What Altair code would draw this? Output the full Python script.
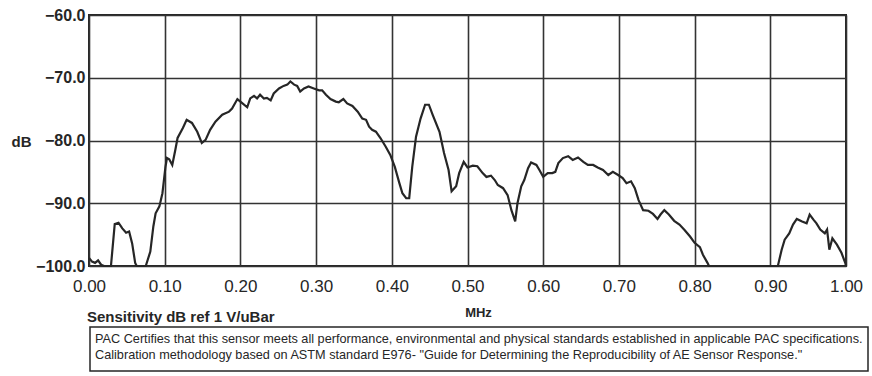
import altair as alt
import pandas as pd

# Frequency response of the sensor (MHz vs dB)
freq_mhz = [
    0.000, 0.004, 0.008, 0.012, 0.016, 0.020, 0.029, 0.034, 0.039, 0.044,
    0.049, 0.053, 0.057, 0.061, 0.063, 0.075, 0.081, 0.085, 0.088, 0.093,
    0.097, 0.101, 0.103, 0.106, 0.110, 0.114, 0.117, 0.124, 0.129, 0.136,
    0.143, 0.149, 0.154, 0.160, 0.167, 0.176, 0.185, 0.189, 0.196, 0.202,
    0.209, 0.213, 0.218, 0.222, 0.226, 0.231, 0.235, 0.240, 0.244, 0.251,
    0.257, 0.262, 0.266, 0.271, 0.275, 0.279, 0.284, 0.290, 0.297, 0.304,
    0.308, 0.313, 0.319, 0.326, 0.330, 0.336, 0.341, 0.348, 0.355, 0.361,
    0.366, 0.370, 0.374, 0.379, 0.385, 0.392, 0.398, 0.404, 0.410, 0.414,
    0.419, 0.423, 0.427, 0.432, 0.438, 0.444, 0.449, 0.454, 0.463, 0.469,
    0.475, 0.479, 0.485, 0.489, 0.495, 0.500, 0.507, 0.513, 0.520, 0.525,
    0.531, 0.536, 0.540, 0.547, 0.553, 0.558, 0.563, 0.566, 0.571, 0.575,
    0.580, 0.584, 0.591, 0.595, 0.600, 0.606, 0.612, 0.616, 0.620, 0.626,
    0.633, 0.639, 0.646, 0.653, 0.659, 0.666, 0.672, 0.679, 0.686, 0.692,
    0.699, 0.705, 0.710, 0.716, 0.721, 0.726, 0.732, 0.739, 0.745, 0.751,
    0.755, 0.760, 0.766, 0.773, 0.780, 0.787, 0.794, 0.800, 0.807, 0.811,
    0.817, 0.819, 0.910, 0.915, 0.919, 0.925, 0.930, 0.935, 0.942, 0.948,
    0.952, 0.957, 0.961, 0.966, 0.972, 0.975, 0.978, 0.982, 0.988, 0.994,
    0.999, 1.000,
]
sensitivity_db = [
    -98.7, -99.3, -99.5, -99.1, -99.8, -100.0, -100.0, -93.3, -93.1, -94.0,
    -94.7, -94.5, -96.4, -99.5, -100.0, -100.0, -97.7, -93.7, -91.6, -90.5,
    -88.4, -84.2, -82.8, -83.0, -83.9, -81.5, -79.6, -78.0, -76.7, -77.2,
    -78.6, -80.4, -79.9, -78.3, -77.0, -75.9, -75.4, -74.9, -73.4, -74.0,
    -74.7, -73.3, -72.9, -73.3, -72.7, -73.3, -73.2, -73.6, -72.5, -71.7,
    -71.3, -71.1, -70.6, -71.1, -71.3, -72.2, -71.7, -71.4, -71.7, -72.0,
    -72.0, -72.7, -73.4, -73.8, -73.9, -73.4, -74.1, -74.5, -75.4, -76.5,
    -76.7, -77.8, -78.3, -78.6, -79.6, -81.0, -82.3, -84.2, -86.8, -88.4,
    -89.2, -89.2, -84.2, -79.4, -76.5, -74.3, -74.3, -75.9, -78.6, -82.0,
    -84.7, -88.1, -87.3, -85.2, -83.4, -84.3, -84.0, -84.1, -85.2, -85.8,
    -85.6, -86.3, -87.1, -87.6, -88.7, -91.1, -92.9, -90.0, -87.3, -86.3,
    -84.4, -83.5, -83.9, -84.7, -85.8, -85.2, -85.2, -85.0, -83.6, -82.8,
    -82.5, -83.1, -82.7, -83.4, -83.9, -83.9, -84.3, -84.7, -85.5, -85.0,
    -85.5, -86.0, -86.8, -86.5, -87.6, -89.5, -91.1, -91.2, -91.7, -92.5,
    -91.8, -91.1, -91.8, -92.8, -93.4, -94.3, -95.3, -96.3, -97.0, -98.2,
    -99.5, -100.0, -100.0, -97.4, -95.8, -94.8, -93.4, -92.5, -92.9, -93.2,
    -91.8, -92.6, -93.2, -94.2, -94.8, -94.2, -97.4, -95.6, -96.6, -97.9,
    -99.5, -100.0,
]

x_ticks = [0.0, 0.1, 0.2, 0.3, 0.4, 0.5, 0.6, 0.7, 0.8, 0.9, 1.0]
y_ticks = [-100.0, -90.0, -80.0, -70.0, -60.0]

x_title = "MHz"
y_title = "dB"
caption = "Sensitivity dB ref 1 V/uBar"
note_lines = [
    "PAC Certifies that this sensor meets all performance, environmental and physical standards established in applicable PAC specifications.",
    'Calibration methodology based on ASTM standard E976- "Guide for Determining the Reproducibility of AE Sensor Response."',
]

INK = "#262626"
FONT = "Liberation Sans"

df = pd.DataFrame({"freq": freq_mhz, "db": sensitivity_db})

x_enc = alt.X(
    "freq:Q",
    scale=alt.Scale(domain=[0, 1], nice=False),
    axis=alt.Axis(
        values=x_ticks, format=".2f", title=x_title,
        labelFont=FONT, labelFontSize=17, labelColor=INK, labelPadding=12,
        labelFlush=False, ticks=False, domain=False,
        grid=True, gridColor="#333333", gridWidth=1.6,
        titleFont=FONT, titleFontSize=13, titleFontWeight="bold", titleColor=INK,
        titleX=389, titleY=46, titleBaseline="middle", titleAlign="center",
    ),
)
y_enc = alt.Y(
    "db:Q",
    scale=alt.Scale(domain=[-100, -60], nice=False),
    axis=alt.Axis(
        values=y_ticks, format=".1f", title=y_title,
        labelFont=FONT, labelFontSize=16, labelFontWeight="bold", labelColor=INK,
        labelPadding=4, labelFlush=False, ticks=False, domain=False,
        grid=True, gridColor="#333333", gridWidth=1.6,
        titleFont=FONT, titleFontSize=15, titleFontWeight="bold", titleColor=INK,
        titleAngle=0, titleX=-68, titleY=126, titleBaseline="middle", titleAlign="center",
    ),
)

curve = alt.Chart(df).mark_line(color=INK, strokeWidth=2.2, interpolate="linear").encode(
    x=x_enc, y=y_enc
)

caption_text = alt.Chart(pd.DataFrame({"t": [caption]})).mark_text(
    font=FONT, fontSize=15, fontWeight="bold", color=INK, align="left", baseline="middle"
).encode(x=alt.value(-2), y=alt.value(302), text="t:N")

note_box = alt.Chart(pd.DataFrame({"k": [0]})).mark_rect(
    fill="white", stroke=INK, strokeWidth=1.5
).encode(x=alt.value(1), x2=alt.value(779), y=alt.value(312), y2=alt.value(356))

note_df = pd.DataFrame({"t": note_lines, "row": [0, 1]})
note_text = alt.Chart(note_df).transform_calculate(
    ypos="324 + datum.row * 16"
).mark_text(
    font=FONT, fontSize=12.7, color=INK, align="left", baseline="middle"
).encode(x=alt.value(6), y=alt.Y("ypos:Q", scale=None, axis=None), text="t:N")

chart = alt.layer(curve, caption_text, note_box, note_text).properties(
    width=757,
    height=251,
    autosize=alt.AutoSizeParams(type="none"),
    padding={"left": 89, "top": 15, "right": 26, "bottom": 110},
    background="white",
).configure_view(stroke=INK, strokeWidth=2)

chart.save("out.html", embed_options={"renderer": "svg", "actions": False})
